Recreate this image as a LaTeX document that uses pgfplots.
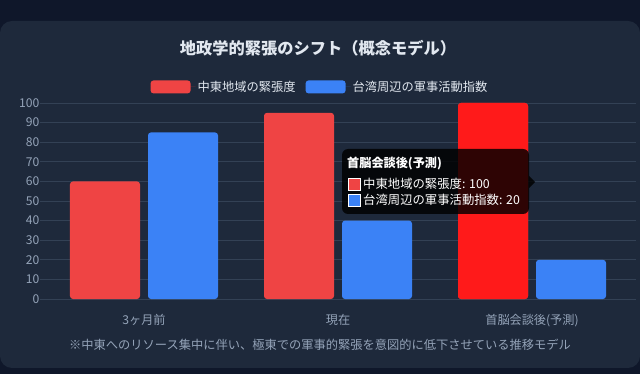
\documentclass[border=0pt]{standalone}
\usepackage{fontspec}
\setmainfont{Noto Sans CJK JP}
\usepackage{pgfplots}
\pgfplotsset{compat=1.18}
\definecolor{bgdark}{HTML}{0F172A}
\definecolor{panel}{HTML}{1E293B}
\definecolor{gridc}{HTML}{334155}
\definecolor{tickc}{HTML}{94A3B8}
\definecolor{titlec}{HTML}{E2E8F0}
\definecolor{cred}{HTML}{EF4444}
\definecolor{cblue}{HTML}{3B82F6}
\definecolor{hred}{HTML}{FF1A1A}
\begin{document}
\begin{tikzpicture}
\fill[bgdark] (0bp,0bp) rectangle (640bp,374bp);
\fill[panel, rounded corners=12bp] (0bp,6bp) rectangle (640bp,353bp);
\node[text=titlec, font=\fontsize{16.3}{19}\selectfont\bfseries] at (318bp,326bp) {地政学的緊張のシフト（概念モデル）};
\node[text=tickc, font=\fontsize{12.3}{15}\selectfont] at (320bp,29bp) {※中東へのリソース集中に伴い、極東での軍事的緊張を意図的に低下させている推移モデル};
\begin{axis}[
  at={(47bp,75bp)}, anchor=south west,
  scale only axis, width=582bp, height=196bp,
  xmin=-0.5, xmax=2.5, ymin=0, ymax=100,
  enlargelimits=false, clip=false,
  ybar, bar width=70bp,
  xtick={0,1,2},
  xticklabels={3ヶ月前,現在,首脳会談後(予測)},
  ytick={0,10,...,100},
  ymajorgrids, grid style={draw=gridc, line width=0.8bp},
  axis line style={draw=none},
  xtick style={draw=none},
  ytick style={draw=gridc, line width=0.8bp},
  major tick length=7bp, tick align=outside,
  tick label style={text=tickc, font=\fontsize{12.2}{14}\selectfont},
  /pgf/number format/assume math mode=true,
  xticklabel style={yshift=-5bp},
  yticklabel style={xshift=3bp},
  legend columns=2,
  legend style={at={(0.469,1.082)}, anchor=center, draw=none, fill=none,
    text=titlec, font=\fontsize{12.3}{15}\selectfont,
    /tikz/every even column/.append style={column sep=8bp}},
  legend cell align=left,
  legend image code/.code={\fill[#1,draw=none] (0bp,-6.5bp) rectangle (40bp,6.5bp); \path (0bp,0bp) -- (45bp,0bp);},
]
\addplot[fill=cred, draw=none, bar shift=-39bp, rounded corners=3bp] coordinates {(0,60) (1,95) (2,100)};
\addlegendentry{中東地域の緊張度}
\addplot[fill=cblue, draw=none, bar shift=39bp, rounded corners=3bp] coordinates {(0,85) (1,40) (2,20)};
\addlegendentry{台湾周辺の軍事活動指数}
\addplot[fill=hred, draw=none, bar shift=-39bp, rounded corners=3bp, forget plot] coordinates {(2,100)};
\end{axis}
% tooltip
\fill[black, opacity=0.82, rounded corners=6bp] (342bp,160bp) rectangle (529bp,225bp);
\fill[black, opacity=0.82] (529bp,198bp) -- (535bp,192bp) -- (529bp,186bp) -- cycle;
\node[anchor=west, text=white, font=\fontsize{12.2}{14}\selectfont\bfseries, inner sep=0pt] at (347bp,211bp) {首脳会談後(予測)};
\filldraw[fill=cred, draw=white, line width=0.8bp] (348bp,184bp) rectangle (360bp,196bp);
\filldraw[fill=cblue, draw=white, line width=0.8bp] (348bp,168bp) rectangle (360bp,180bp);
\node[anchor=west, text=white, font=\fontsize{12.4}{14}\selectfont, inner sep=0pt] at (363bp,190bp) {中東地域の緊張度: 100};
\node[anchor=west, text=white, font=\fontsize{12.4}{14}\selectfont, inner sep=0pt] at (363bp,174bp) {台湾周辺の軍事活動指数: 20};
\useasboundingbox (0bp,0bp) rectangle (640bp,374bp);
\end{tikzpicture}
\end{document}
